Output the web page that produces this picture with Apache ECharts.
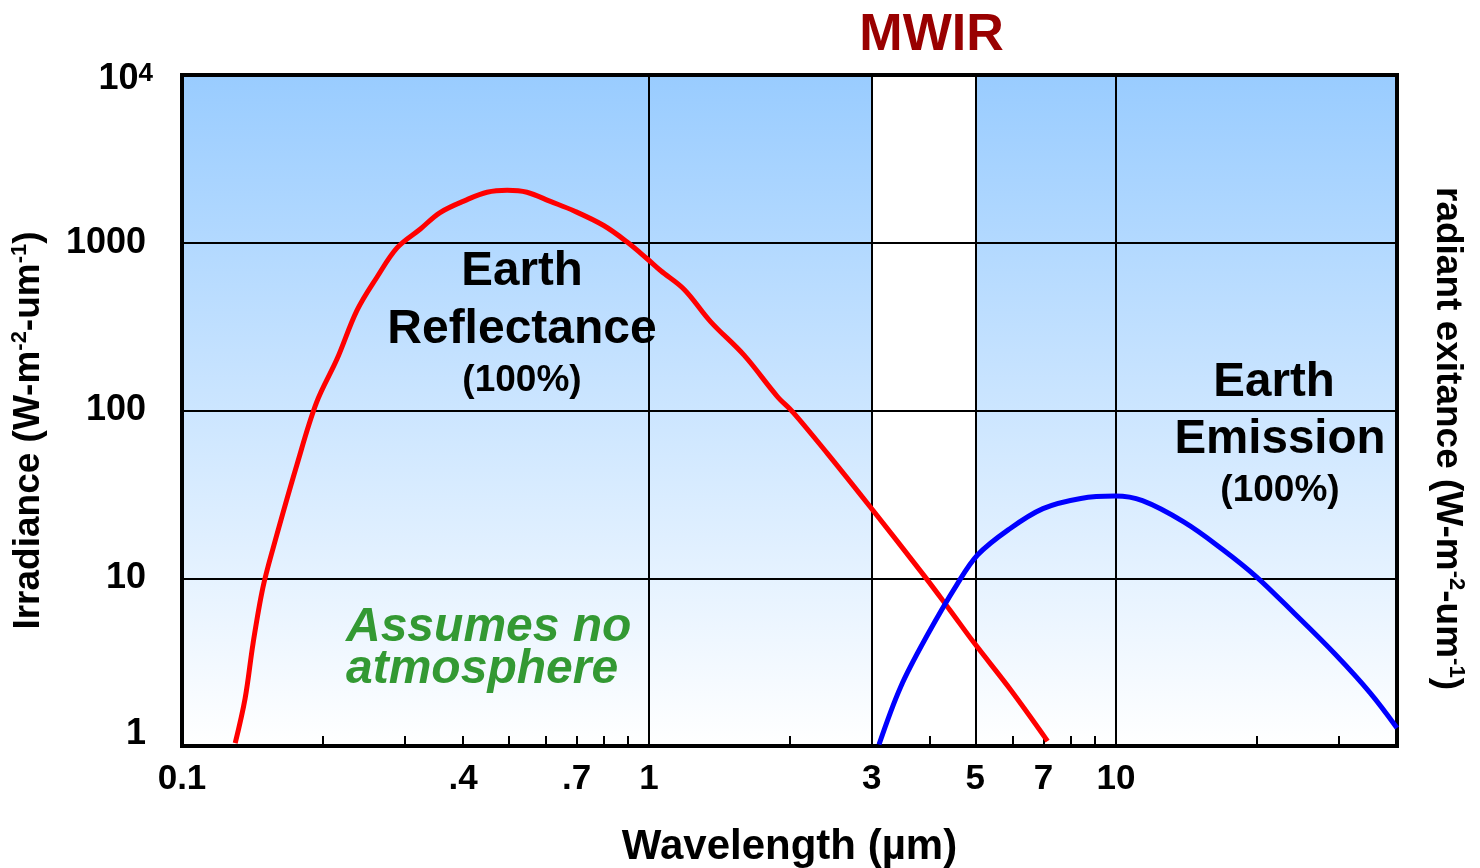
<!DOCTYPE html>
<html>
<head>
<meta charset="utf-8">
<script src="https://cdn.jsdelivr.net/npm/echarts@6/dist/echarts.min.js"></script>
<style>
html,body{margin:0;padding:0;background:#fff;}
#chart{width:1480px;height:868px;}
</style>
</head>
<body>
<div id="chart"></div>
<script>
// ---- data ----
const wavelengthRefl = [0.130, 0.1365, 0.142, 0.149, 0.157, 0.176, 0.194, 0.215, 0.237, 0.2615, 0.289, 0.324, 0.357, 0.408, 0.450, 0.497, 0.548, 0.615, 0.690, 0.800, 0.898, 0.991, 1.06, 1.19, 1.355, 1.60, 1.88, 2.04, 2.41, 2.985, 3.88, 4.41, 4.97, 5.96, 7.14];
const reflectance    = [1.04, 1.92, 4.11, 8.78, 15.4, 46.9, 111, 204, 395, 623, 935, 1208, 1514, 1808, 2000, 2055, 2000, 1764, 1552, 1267, 1010, 803, 681, 527, 339, 213, 122, 96.9, 55.5, 26.4, 10.4, 6.47, 4.12, 2.15, 1.07];
const wavelengthEmit = [3.11, 3.46, 3.95, 4.57, 5.06, 5.89, 6.98, 8.41, 9.97, 11.4, 14.0, 16.9, 20.0, 24.1, 29.5, 35.0, 40.0];
const emission       = [1.02, 2.25, 4.6, 9.2, 13.8, 19.5, 26.0, 29.9, 30.9, 29.0, 21.6, 14.9, 10.2, 6.18, 3.52, 2.08, 1.28];
const xLabelValues = [0.1, 0.4, 0.7, 1, 3, 5, 7, 10];
const xLabelTexts  = ['0.1', '.4', '.7', '1', '3', '5', '7', '10'];
const xMinorTicks  = [0.2, 0.3, 0.4, 0.5, 0.6, 0.7, 0.8, 0.9, 2, 4, 6, 7, 8, 9, 20, 30];
const xGridValues  = [1, 3, 5, 10];
const mwirBand     = [3, 5];
const xRange = [0.1, 40];
const yRange = [1, 10000];

const FONT = '"Liberation Sans", Arial, Helvetica, sans-serif';
const chart = echarts.init(document.getElementById('chart'), null, {renderer: 'canvas'});

const axisLineStyle = {color: '#000', width: 4, cap: 'square'};
const supRich = {
  sup: {fontSize: 22, fontWeight: 'bold', fontFamily: FONT, color: '#000', verticalAlign: 'top', lineHeight: 22}
};
const yLabelBase = {fontSize: 36, fontWeight: 'bold', fontFamily: FONT, color: '#000'};

const option = {
  animation: false,
  backgroundColor: '#fff',
  grid: {
    left: 182, right: 83, top: 75, bottom: 122,
    containLabel: false, outerBoundsMode: 'none',
    show: true, borderWidth: 0,
    backgroundColor: new echarts.graphic.LinearGradient(0, 0, 0, 1, [
      {offset: 0, color: '#99CCFF'}, {offset: 1, color: '#FFFFFF'}
    ])
  },
  xAxis: [{
    type: 'log', logBase: 10, min: xRange[0], max: xRange[1], position: 'bottom', z: 3,
    axisLine: {show: true, lineStyle: axisLineStyle},
    axisTick: {show: true, inside: true, length: 10, lineStyle: {color: '#000', width: 2}, customValues: xMinorTicks},
    axisLabel: {
      show: true, customValues: xLabelValues, margin: 16,
      fontSize: 35, fontWeight: 'bold', fontFamily: FONT, color: '#000',
      formatter: function (v) { const i = xLabelValues.findIndex(x => Math.abs(x - v) < 1e-9); return i >= 0 ? xLabelTexts[i] : ''; }
    },
    splitLine: {show: false},
    name: 'Wavelength (µm)', nameLocation: 'middle', nameGap: 80,
    nameTextStyle: {fontSize: 42, fontWeight: 'bold', fontFamily: FONT, color: '#000'}
  }, {
    type: 'log', logBase: 10, min: xRange[0], max: xRange[1], position: 'top', z: 3,
    axisLine: {show: true, lineStyle: axisLineStyle},
    axisTick: {show: false}, axisLabel: {show: false}, splitLine: {show: false}
  }],
  yAxis: [{
    type: 'log', logBase: 10, min: yRange[0], max: yRange[1], position: 'left', z: 2,
    axisLine: {show: true, lineStyle: axisLineStyle},
    axisTick: {show: false},
    splitLine: {show: true, lineStyle: {color: '#000', width: 2}},
    axisLabel: {
      margin: 29, fontSize: 36, fontWeight: 'bold', fontFamily: FONT, color: '#000',
      formatter: function (v) {
        if (Math.abs(v - 1) < 1e-9) return '{lift|1}';
        if (Math.abs(v - 10000) < 1e-6) return '{base|10}{sup4|4}';
        return '{n|' + Math.round(v) + '}';
      },
      rich: {
        n: Object.assign({padding: [0, 7, 0, 0]}, yLabelBase),
        lift: Object.assign({padding: [0, 7, 24, 0]}, yLabelBase),
        base: Object.assign({lineHeight: 40, padding: [8, 0, 0, 0]}, yLabelBase),
        sup4: {fontSize: 26, fontWeight: 'bold', fontFamily: FONT, color: '#000', verticalAlign: 'top', lineHeight: 26, padding: [6, 0, 0, 0]}
      }
    },
    name: 'Irradiance (W-m{sup|-2}-um{sup|-1})', nameLocation: 'middle', nameGap: 133,
    nameTextStyle: {fontSize: 37, fontWeight: 'bold', fontFamily: FONT, color: '#000', lineHeight: 40, padding: [0, 40, 0, 0], rich: supRich}
  }, {
    type: 'log', logBase: 10, min: yRange[0], max: yRange[1], position: 'right', z: 3,
    axisLine: {show: true, lineStyle: axisLineStyle},
    axisTick: {show: false}, axisLabel: {show: false}, splitLine: {show: false},
    name: 'radiant exitance (W-m{sup|-2}-um{sup|-1})', nameLocation: 'middle', nameGap: 30, nameRotate: -90,
    nameTextStyle: {fontSize: 37, fontWeight: 'bold', fontFamily: FONT, color: '#000', lineHeight: 40, padding: [0, 0, 0, 56], rich: supRich}
  }],
  series: [{
    name: 'band', type: 'line', data: [], z: 1, clip: false, silent: true,
    markArea: {
      silent: true,
      itemStyle: {color: '#FFFFFF', opacity: 1},
      label: {show: true, position: 'top', distance: 13, offset: [8, 0], formatter: 'MWIR',
        color: '#990000', fontSize: 52, fontWeight: 'bold', fontFamily: FONT},
      data: [[{xAxis: mwirBand[0]}, {xAxis: mwirBand[1]}]]
    }
  }, {
    name: 'grid', type: 'line', data: [], z: 2, silent: true,
    markLine: {
      silent: true, symbol: 'none', animation: false,
      label: {show: false},
      lineStyle: {color: '#000', width: 2, type: 'solid'},
      data: xGridValues.map(v => ({xAxis: v}))
    }
  }, {
    name: 'Earth Reflectance', type: 'line', z: 5, smooth: 0.35, showSymbol: false, symbol: 'none',
    lineStyle: {color: '#FF0000', width: 5}, itemStyle: {color: '#FF0000'},
    data: wavelengthRefl.map((x, i) => [x, reflectance[i]])
  }, {
    name: 'Earth Emission', type: 'line', z: 5, smooth: 0.35, showSymbol: false, symbol: 'none',
    lineStyle: {color: '#0000FF', width: 5}, itemStyle: {color: '#0000FF'},
    data: wavelengthEmit.map((x, i) => [x, emission[i]])
  }],
  graphic: [
    {type: 'text', x: 522, y: 272, z: 10, style: {text: 'Earth', font: 'bold 47.5px ' + FONT, fill: '#000', align: 'center', verticalAlign: 'middle'}},
    {type: 'text', x: 522, y: 330, z: 10, style: {text: 'Reflectance', font: 'bold 48px ' + FONT, fill: '#000', align: 'center', verticalAlign: 'middle'}},
    {type: 'text', x: 522, y: 381, z: 10, style: {text: '(100%)', font: 'bold 37px ' + FONT, fill: '#000', align: 'center', verticalAlign: 'middle'}},
    {type: 'text', x: 1274, y: 383, z: 10, style: {text: 'Earth', font: 'bold 47.5px ' + FONT, fill: '#000', align: 'center', verticalAlign: 'middle'}},
    {type: 'text', x: 1280, y: 440, z: 10, style: {text: 'Emission', font: 'bold 47.5px ' + FONT, fill: '#000', align: 'center', verticalAlign: 'middle'}},
    {type: 'text', x: 1280, y: 491, z: 10, style: {text: '(100%)', font: 'bold 37px ' + FONT, fill: '#000', align: 'center', verticalAlign: 'middle'}},
    {type: 'text', x: 346, y: 628, z: 10, style: {text: 'Assumes no', font: 'italic bold 48px ' + FONT, fill: '#339933', align: 'left', verticalAlign: 'middle'}},
    {type: 'text', x: 346, y: 670, z: 10, style: {text: 'atmosphere', font: 'italic bold 48px ' + FONT, fill: '#339933', align: 'left', verticalAlign: 'middle'}}
  ]
};
chart.setOption(option);
</script>
</body>
</html>
